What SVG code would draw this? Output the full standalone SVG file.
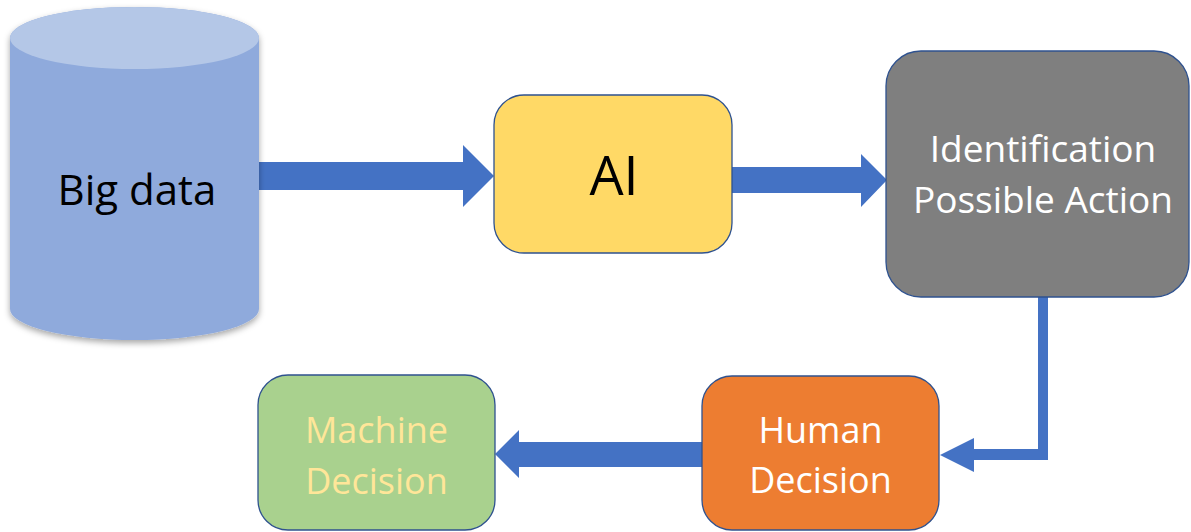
<svg xmlns="http://www.w3.org/2000/svg" width="1191" height="532" viewBox="0 0 1191 532">
<defs>
<style>
.box{stroke:#2F528F;stroke-width:1.3}
.t{font-family:"Open Sans","Liberation Sans",sans-serif;text-anchor:middle}
.arrow{fill:#4472C4}
</style>
<filter id="sh" x="-10%" y="-10%" width="120%" height="120%">
<feDropShadow dx="0" dy="3" stdDeviation="3" flood-color="#000" flood-opacity="0.35"/>
</filter>
</defs>
<rect width="1191" height="532" fill="#ffffff"/>
<g id="connectors">
<polygon class="arrow" points="259,162 463,162 463,145 494,176 463,207 463,190 259,190"/>
<polygon class="arrow" points="732,167 861,167 861,154 887,180 861,207 861,193 732,193"/>
<polygon class="arrow" points="1038,297 1048,297 1048,460 974,460 974,472 940,455 974,438 974,449 1038,449"/>
<polygon class="arrow" points="702,442 519,442 519,430 495,454 519,478 519,467 702,467"/>
</g>
<g id="bigdata">
<path d="M10,38 A124.5,31 0 0 1 259,38 V309 A124.5,31 0 0 1 10,309 Z" fill="#8FAADC" filter="url(#sh)"/>
<ellipse cx="134.5" cy="38" rx="124.5" ry="31" fill="#B4C7E7"/>
<text class="t" x="137" y="205" font-size="42" fill="#000">Big data</text>
</g>
<g id="ai">
<rect class="box" x="494" y="95" width="238" height="158" rx="30" fill="#FFD966"/>
<text class="t" x="614" y="195" font-size="54" fill="#000">AI</text>
</g>
<g id="identification">
<rect class="box" x="886" y="51" width="303" height="246" rx="35" fill="#7F7F7F"/>
<text class="t" x="1043" y="162" font-size="37" fill="#fff">Identification</text>
<text class="t" x="1043" y="213" font-size="37" fill="#fff">Possible Action</text>
</g>
<g id="human">
<rect class="box" x="702" y="376" width="237" height="154" rx="30" fill="#ED7D31"/>
<text class="t" x="820.5" y="443" font-size="36" fill="#fff">Human</text>
<text class="t" x="820.5" y="493" font-size="36" fill="#fff">Decision</text>
</g>
<g id="machine">
<rect class="box" x="258" y="375" width="237" height="155" rx="30" fill="#A9D18E"/>
<text class="t" x="376.5" y="443" font-size="36" fill="#FFE699">Machine</text>
<text class="t" x="376.5" y="494" font-size="36" fill="#FFE699">Decision</text>
</g>
</svg>
